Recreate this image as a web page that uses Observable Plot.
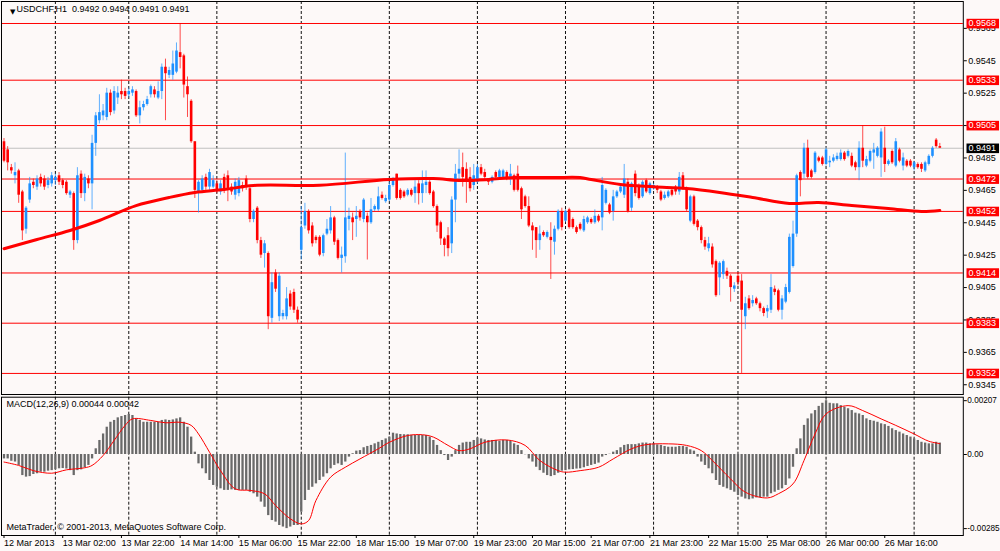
<!DOCTYPE html>
<html>
<head>
<meta charset="utf-8">
<script src="https://cdn.jsdelivr.net/npm/d3@7"></script>
<script src="https://cdn.jsdelivr.net/npm/@observablehq/plot@0.6"></script>
<style>
html, body { margin: 0; padding: 0; background: #fdf9f8; }
#chart { width: 1000px; height: 551px; overflow: hidden; }
#chart svg { display: block; }
</style>
</head>
<body>
<div id="chart"></div>
<script>
// ---------- DATA (USDCHF H1) ----------
const opens = [
.9495,.9490,.9479,.9474,.9477,.9464,.9441,.9459,.9470,.9467,
.9473,.9472,.9468,.9469,.9471,.9474,.9471,.9470,.9462,.9463,
.9434,.9475,.9463,.9472,.9469,.9494,.9508,.9511,.9510,.9525,
.9514,.9522,.9526,.9526,.9524,.9525,.9526,.9511,.9516,.9518,
.9524,.9527,.9522,.9526,.9541,.9536,.9536,.9538,.9550,.9548,
.9529,.9520,.9495,.9464,.9465,.9473,.9467,.9467,.9469,.9464,
.9473,.9474,.9467,.9462,.9463,.9468,.9472,.9466,.9447,.9454,
.9434,.9426,.9426,.9386,.9414,.9387,.9387,.9387,.9401,.9402,
.9391,.9428,.9443,.9452,.9443,.9436,.9436,.9426,.9438,.9440,
.9448,.9434,.9423,.9424,.9447,.9448,.9447,.9452,.9447,.9449,
.9445,.9453,.9453,.9462,.9458,.9459,.9468,.9475,.9465,.9464,
.9462,.9465,.9463,.9469,.9463,.9468,.9470,.9464,.9455,.9445,
.9435,.9437,.9432,.9459,.9475,.9479,.9478,.9473,.9468,.9470,
.9479,.9476,.9472,.9470,.9476,.9473,.9473,.9476,.9472,.9474,
.9475,.9466,.9461,.9455,.9443,.9442,.9434,.9439,.9436,.9436,
.9433,.9441,.9452,.9446,.9453,.9447,.9442,.9444,.9440,.9445,
.9447,.9445,.9449,.9448,.9457,.9456,.9452,.9461,.9464,.9462,
.9470,.9454,.9475,.9468,.9461,.9471,.9463,.9466,.9467,.9464,
.9460,.9461,.9465,.9467,.9464,.9474,.9466,.9446,.9461,.9446,
.9442,.9434,.9429,.9430,.9421,.9411,.9413,.9415,.9412,.9404,
.9412,.9409,.9387,.9398,.9395,.9398,.9395,.9392,.9390,.9391,
.9404,.9403,.9391,.9396,.9402,.9418,.9438,.9476,.9475,.9491,
.9477,.9476,.9485,.9485,.9481,.9482,.9483,.9484,.9484,.9488,
.9486,.9486,.9482,.9479,.9491,.9480,.9483,.9488,.9486,.9485,
.9491,.9481,.9489,.9480,.9490,.9480,.9483,.9483,.9479,.9481,
.9481,.9477,.9481,.9486,.9496,.9492];
const highs = [
.9497,.9492,.9481,.9482,.9478,.9465,.9455,.9473,.9472,.9474,
.9475,.9474,.9473,.9476,.9475,.9476,.9472,.9471,.9465,.9464,
.9479,.9477,.9475,.9474,.9499,.9513,.9524,.9518,.9528,.9527,
.9529,.9529,.9533,.9528,.9528,.9529,.9527,.9520,.9520,.9523,
.9530,.9529,.9532,.9543,.9546,.9541,.9551,.9556,.9568,.9549,
.9535,.9521,.9495,.9471,.9474,.9475,.9478,.9474,.9471,.9471,
.9475,.9477,.9469,.9472,.9473,.9470,.9474,.9468,.9453,.9455,
.9436,.9434,.9427,.9414,.9416,.9414,.9391,.9405,.9403,.9404,
.9393,.9455,.9457,.9453,.9445,.9437,.9437,.9438,.9447,.9455,
.9449,.9435,.9430,.9488,.9454,.9451,.9455,.9453,.9460,.9451,
.9460,.9456,.9467,.9464,.9462,.9470,.9473,.9475,.9466,.9465,
.9466,.9466,.9471,.9471,.9477,.9477,.9471,.9465,.9456,.9446,
.9436,.9442,.9461,.9481,.9490,.9488,.9482,.9479,.9481,.9481,
.9481,.9478,.9472,.9474,.9477,.9478,.9478,.9477,.9481,.9475,
.9480,.9467,.9462,.9461,.9445,.9442,.9443,.9440,.9440,.9445,
.9443,.9453,.9454,.9453,.9454,.9448,.9443,.9445,.9449,.9449,
.9448,.9453,.9450,.9473,.9466,.9457,.9465,.9465,.9468,.9481,
.9472,.9470,.9477,.9469,.9471,.9472,.9470,.9469,.9468,.9465,
.9464,.9465,.9466,.9468,.9476,.9476,.9467,.9462,.9462,.9447,
.9443,.9436,.9436,.9432,.9422,.9421,.9422,.9417,.9413,.9408,
.9414,.9413,.9399,.9400,.9400,.9399,.9396,.9393,.9394,.9413,
.9406,.9404,.9400,.9407,.9438,.9446,.9475,.9477,.9494,.9496,
.9478,.9489,.9486,.9486,.9491,.9486,.9487,.9488,.9490,.9489,
.9490,.9488,.9483,.9495,.9505,.9486,.9490,.9494,.9492,.9503,
.9504,.9484,.9490,.9497,.9491,.9488,.9484,.9484,.9483,.9482,
.9482,.9483,.9487,.9492,.9497,.9494];
const lows = [
.9482,.9477,.9475,.9469,.9457,.9434,.9438,.9457,.9466,.9465,
.9467,.9465,.9466,.9467,.9468,.9468,.9466,.9462,.9460,.9428,
.9432,.9460,.9458,.9466,.9453,.9486,.9506,.9508,.9508,.9511,
.9512,.9518,.9521,.9521,.9522,.9523,.9510,.9506,.9514,.9517,
.9522,.9522,.9521,.9521,.9508,.9534,.9533,.9537,.9540,.9522,
.9510,.9494,.9460,.9451,.9463,.9465,.9465,.9466,.9463,.9462,
.9463,.9458,.9462,.9459,.9461,.9464,.9465,.9445,.9445,.9432,
.9423,.9417,.9379,.9383,.9402,.9384,.9385,.9385,.9391,.9389,
.9383,.9422,.9441,.9438,.9430,.9432,.9424,.9424,.9437,.9438,
.9431,.9422,.9414,.9420,.9440,.9434,.9436,.9446,.9445,.9422,
.9444,.9452,.9452,.9459,.9457,.9458,.9467,.9459,.9459,.9460,
.9461,.9461,.9457,.9456,.9457,.9463,.9462,.9454,.9439,.9431,
.9424,.9424,.9426,.9445,.9471,.9467,.9457,.9464,.9465,.9469,
.9474,.9471,.9468,.9469,.9472,.9472,.9472,.9471,.9468,.9464,
.9464,.9447,.9454,.9442,.9428,.9423,.9428,.9436,.9435,.9410,
.9425,.9440,.9440,.9445,.9441,.9441,.9438,.9440,.9439,.9444,
.9444,.9444,.9445,.9440,.9456,.9450,.9446,.9460,.9463,.9460,
.9451,.9452,.9461,.9459,.9460,.9463,.9462,.9465,.9463,.9458,
.9459,.9460,.9461,.9462,.9462,.9465,.9452,.9445,.9443,.9440,
.9432,.9428,.9427,.9417,.9399,.9400,.9410,.9410,.9396,.9402,
.9406,.9352,.9379,.9391,.9393,.9394,.9390,.9387,.9386,.9389,
.9400,.9390,.9385,.9395,.9401,.9417,.9436,.9461,.9472,.9472,
.9472,.9475,.9482,.9480,.9480,.9479,.9482,.9483,.9483,.9483,
.9485,.9479,.9477,.9471,.9479,.9479,.9482,.9478,.9485,.9473,
.9476,.9480,.9481,.9479,.9482,.9477,.9479,.9479,.9477,.9478,
.9476,.9476,.9480,.9485,.9491,.9491];
const closes = [
.9483,.9482,.9477,.9476,.9462,.9440,.9454,.9469,.9468,.9472,
.9469,.9467,.9471,.9474,.9473,.9470,.9468,.9463,.9464,.9434,
.9474,.9463,.9473,.9469,.9494,.9511,.9513,.9514,.9525,.9513,
.9526,.9525,.9524,.9523,.9526,.9527,.9511,.9516,.9518,.9521,
.9529,.9524,.9526,.9541,.9537,.9539,.9543,.9551,.9547,.9530,
.9524,.9495,.9465,.9470,.9472,.9467,.9476,.9471,.9465,.9469,
.9465,.9466,.9464,.9470,.9471,.9466,.9467,.9447,.9452,.9434,
.9425,.9432,.9387,.9408,.9404,.9412,.9389,.9398,.9393,.9391,
.9385,.9442,.9452,.9440,.9432,.9434,.9425,.9437,.9441,.9448,
.9433,.9423,.9425,.9448,.9449,.9445,.9449,.9448,.9459,.9445,
.9453,.9455,.9461,.9460,.9460,.9468,.9472,.9460,.9460,.9461,
.9465,.9462,.9467,.9463,.9469,.9470,.9463,.9455,.9443,.9435,
.9431,.9429,.9459,.9475,.9478,.9473,.9470,.9466,.9474,.9479,
.9475,.9473,.9470,.9473,.9473,.9477,.9477,.9472,.9475,.9465,
.9465,.9453,.9455,.9443,.9440,.9434,.9438,.9437,.9439,.9434,
.9441,.9452,.9442,.9452,.9442,.9442,.9439,.9441,.9447,.9448,
.9445,.9449,.9446,.9468,.9465,.9451,.9461,.9464,.9467,.9472,
.9452,.9469,.9463,.9460,.9470,.9464,.9469,.9468,.9465,.9459,
.9462,.9464,.9462,.9464,.9473,.9466,.9453,.9461,.9444,.9442,
.9434,.9430,.9432,.9419,.9400,.9420,.9421,.9412,.9405,.9406,
.9408,.9391,.9395,.9392,.9397,.9395,.9392,.9389,.9392,.9405,
.9402,.9391,.9398,.9405,.9436,.9438,.9474,.9471,.9491,.9473,
.9473,.9488,.9483,.9481,.9490,.9483,.9485,.9486,.9488,.9484,
.9489,.9480,.9479,.9491,.9483,.9484,.9489,.9490,.9491,.9501,
.9481,.9483,.9482,.9495,.9483,.9485,.9480,.9480,.9482,.9479,
.9478,.9482,.9486,.9491,.9492,.9491];

// moving average (sampled at bars)
const maBars = [0,9,18,26,36,45,52,60,68,86,105,117,124,132,139,150,157,160,168,177,186,195,204,214,222,231,241,250,255];
const maValues = [0.9429,0.94347,0.94402,0.94464,0.94556,0.94606,0.94637,0.94655,0.9468,0.94682,0.94717,0.94723,0.94711,0.94717,0.94729,0.94729,0.94729,0.94717,0.94686,0.94672,0.94661,0.94637,0.94606,0.94569,0.94575,0.94556,0.94538,0.94519,0.94526];

// horizontal levels and bid
const levels = [0.9568, 0.9533, 0.9505, 0.9472, 0.9452, 0.9414, 0.9383, 0.9352];
const bidPrice = 0.9491;
const priceTicks = [0.9345,0.9365,0.9385,0.9405,0.9425,0.9445,0.9465,0.9485,0.9505,0.9525,0.9545,0.9565];

// MACD histogram (one per bar)
const macdHist = [
-0.00017,-0.00017,-0.00026,-0.00029,-0.00042,-0.00081,-0.00087,-0.00085,-0.00077,-0.00074,
-0.00068,-0.00068,-0.00064,-0.00062,-0.00059,-0.00055,-0.00054,-0.00056,-0.00062,-0.00081,
-0.00062,-0.00059,-0.00051,-0.00042,-0.00017,0.00022,0.00054,0.00079,0.00105,0.00124,
0.00131,0.00141,0.00146,0.00150,0.00154,0.00150,0.00137,0.00131,0.00124,0.00124,
0.00124,0.00124,0.00124,0.00131,0.00133,0.00131,0.00133,0.00137,0.00141,0.00124,
0.00105,0.00067,0.00009,-0.00036,-0.00055,-0.00074,-0.00100,-0.00119,-0.00126,-0.00132,
-0.00138,-0.00138,-0.00136,-0.00138,-0.00138,-0.00138,-0.00138,-0.00145,-0.00151,-0.00164,
-0.00183,-0.00203,-0.00235,-0.00254,-0.00260,-0.00273,-0.00279,-0.00285,-0.00279,-0.00273,
-0.00273,-0.00222,-0.00177,-0.00138,-0.00126,-0.00113,-0.00100,-0.00087,-0.00074,-0.00055,
-0.00042,-0.00036,-0.00042,-0.00029,-0.00010,0.00003,0.00013,0.00015,0.00026,0.00031,
0.00035,0.00041,0.00047,0.00054,0.00060,0.00067,0.00082,0.00079,0.00077,0.00076,
0.00076,0.00074,0.00073,0.00073,0.00073,0.00073,0.00067,0.00054,0.00035,0.00015,
-0.00004,-0.00023,-0.00010,0.00015,0.00035,0.00044,0.00047,0.00047,0.00054,0.00064,
0.00060,0.00056,0.00054,0.00054,0.00054,0.00051,0.00054,0.00054,0.00051,0.00041,
0.00035,0.00015,-0.00001,-0.00017,-0.00029,-0.00049,-0.00062,-0.00072,-0.00081,-0.00085,
-0.00081,-0.00072,-0.00064,-0.00062,-0.00059,-0.00058,-0.00056,-0.00055,-0.00051,-0.00046,
-0.00042,-0.00038,-0.00033,-0.00010,-0.00004,0.00001,0.00009,0.00015,0.00026,0.00035,
0.00038,0.00038,0.00038,0.00041,0.00044,0.00044,0.00041,0.00041,0.00037,0.00035,
0.00031,0.00028,0.00028,0.00028,0.00031,0.00031,0.00028,0.00018,0.00013,-0.00010,
-0.00029,-0.00042,-0.00055,-0.00074,-0.00100,-0.00119,-0.00126,-0.00132,-0.00138,-0.00145,
-0.00158,-0.00164,-0.00171,-0.00174,-0.00171,-0.00167,-0.00167,-0.00164,-0.00164,-0.00151,
-0.00145,-0.00138,-0.00132,-0.00119,-0.00094,-0.00049,0.00022,0.00060,0.00112,0.00137,
0.00156,0.00169,0.00185,0.00197,0.00207,0.00197,0.00195,0.00195,0.00188,0.00182,
0.00176,0.00169,0.00159,0.00156,0.00150,0.00137,0.00131,0.00128,0.00124,0.00118,
0.00115,0.00108,0.00099,0.00092,0.00086,0.00079,0.00073,0.00067,0.00060,0.00054,
0.00047,0.00044,0.00041,0.00041,0.00047,0.00044];

// MACD signal line (sampled at bars)
const sigBars = [0,4,8,13,17,22,24,27,30,33,35,40,44,48,51,53,56,59,63,67,71,74,78,81,83,85,89,93,97,102,105,110,114,117,121,124,127,131,137,142,146,151,153,157,162,166,171,175,181,186,190,193,198,202,208,211,215,218,221,224,230,234,239,243,248,252,255];
const sigValues = [-0.00029,-0.00042,-0.00062,-0.00072,-0.00059,-0.00051,-0.00042,-0.00004,0.00054,0.00112,0.00137,0.00131,0.00122,0.00124,0.00112,0.00079,0.00009,-0.00062,-0.00132,-0.00138,-0.00151,-0.00196,-0.00247,-0.00267,-0.00254,-0.00177,-0.00087,-0.00049,-0.00017,0.00022,0.00047,0.00073,0.00076,0.00067,0.00035,0.00015,0.00022,0.00047,0.00056,0.00035,-0.00023,-0.00062,-0.00068,-0.00062,-0.00049,-0.00017,0.00022,0.00038,0.00041,0.00035,0.00015,-0.00023,-0.00094,-0.00145,-0.00167,-0.00151,-0.00113,-0.00023,0.00079,0.00156,0.00188,0.00169,0.00137,0.00112,0.00079,0.00051,0.00042];
const macdTicks = [0.00207, 0, -0.00285];

// time axis
const daySeps = [14,34,58,81,105,129,153,177,200,224,248];
const xTickBars = [0,16,32,48,64,80,96,112,128,144,160,176,192,208,224,240];
const xTickLabels = ["12 Mar 2013","13 Mar 02:00","13 Mar 22:00","14 Mar 14:00","15 Mar 06:00","15 Mar 22:00","18 Mar 15:00","19 Mar 07:00","19 Mar 23:00","20 Mar 15:00","21 Mar 07:00","21 Mar 23:00","22 Mar 15:00","25 Mar 08:00","26 Mar 00:00","26 Mar 16:00"];

// ---------- CHART ----------
const BG = "#fdf9f8", BULL = "#1e90ff", BEAR = "#ff0000";
const FONT = '"Liberation Sans", Arial, sans-serif';
const fmt4 = d3.format(".4f");

const bars = opens.map((o, i) => ({i, o, h: highs[i], l: lows[i], c: closes[i], col: closes[i] >= o ? BULL : BEAR}));
const ma = maBars.map((b, k) => ({i: b, v: maValues[k]}));
const hist = macdHist.map((v, i) => ({i, v}));
const sig = sigBars.map((b, k) => ({i: b, v: sigValues[k]}));
const last = bars[bars.length - 1];
const header = `USDCHF,H1\u00a0\u00a0${fmt4(last.o)} ${fmt4(last.h)} ${fmt4(last.l)} ${fmt4(last.c)}`;
const macdTitle = `MACD(12,26,9) ${macdHist[macdHist.length - 1].toFixed(5)} ${sigValues[sigValues.length - 1].toFixed(5)}`;

const xDomain = [-0.681, 261.4];
const style = {background: BG, fontFamily: FONT, fontSize: "9px", color: "#000", overflow: "visible"};
const sepStyle = {stroke: "#111", strokeDasharray: "3,2", strokeWidth: 1};

const main = Plot.plot({
  width: 1000, height: 395,
  marginLeft: 1, marginRight: 37.2, marginTop: 1, marginBottom: 1,
  style,
  x: {domain: xDomain, axis: null},
  y: {domain: [0.933899, 0.958158]},
  marks: [
    Plot.ruleX(daySeps, sepStyle),
    Plot.ruleY(levels, {stroke: "#ff0000", strokeWidth: 1}),
    Plot.ruleY([bidPrice], {stroke: "#c0c0c0", strokeWidth: 1}),
    Plot.ruleX(bars, {x: "i", y1: "l", y2: "h", stroke: "col", strokeWidth: 1, strokeOpacity: 0.7}),
    Plot.ruleX(bars, {x: "i", y1: "o", y2: "c", stroke: "col", strokeWidth: 2.6}),
    Plot.line(ma, {x: "i", y: "v", stroke: "#ff0000", strokeWidth: 3, curve: "catmull-rom"}),
    Plot.frame({stroke: "#000"}),
    Plot.axisY(priceTicks, {anchor: "right", label: null, tickFormat: fmt4, tickSize: 3, tickPadding: 2}),
    Plot.text(levels, {y: d => d, text: d => fmt4(d), frameAnchor: "right", dx: 5.2, textAnchor: "start", fill: "white"}),
    Plot.text([bidPrice], {y: d => d, text: d => fmt4(d), frameAnchor: "right", dx: 5.2, textAnchor: "start", fill: "white"}),
    Plot.text(["▼"], {text: d => d, frameAnchor: "top-left", dx: 8.5, dy: 8, fontSize: 7, fontFamily: "DejaVu Sans"}),
    Plot.text([header], {text: d => d, frameAnchor: "top-left", dx: 15, dy: 4, textAnchor: "start", lineAnchor: "top"})
  ]
});

const macd = Plot.plot({
  width: 1000, height: 156,
  marginLeft: 1, marginRight: 37.2, marginTop: 1.7, marginBottom: 16,
  style,
  x: {domain: xDomain},
  y: {domain: [-0.003115, 0.002204]},
  marks: [
    Plot.ruleX(daySeps, sepStyle),
    Plot.ruleX(hist, {x: "i", y1: 0, y2: "v", stroke: "#6a6a6a", strokeWidth: 2.3}),
    Plot.line(sig, {x: "i", y: "v", stroke: "#ff0000", strokeWidth: 1, curve: "catmull-rom"}),
    Plot.frame({stroke: "#000"}),
    Plot.axisY(macdTicks, {anchor: "right", label: null, tickFormat: d => d === 0 ? "0.00" : d.toFixed(5), tickSize: 3, tickPadding: 1, fontSize: 8.2}),
    Plot.axisX(xTickBars, {anchor: "bottom", label: null, tickFormat: d => xTickLabels[xTickBars.indexOf(d)], tickSize: 3, tickPadding: 1.5, textAnchor: "start"}),
    Plot.text([macdTitle], {text: d => d, frameAnchor: "top-left", dx: 5, dy: 3.3, textAnchor: "start", lineAnchor: "top"}),
    Plot.text(["MetaTrader, © 2001-2013, MetaQuotes Software Corp."], {text: d => d, frameAnchor: "bottom-left", dx: 5, dy: -11.7, textAnchor: "start", lineAnchor: "top"})
  ]
});

const root = document.getElementById("chart");
root.appendChild(main);
root.appendChild(macd);

// boxes behind the price labels on the right (red for levels, black for the bid)
const bidText = fmt4(bidPrice);
main.querySelectorAll('g[fill="white"] text').forEach(t => {
  const b = t.getBBox();
  const r = document.createElementNS("http://www.w3.org/2000/svg", "rect");
  r.setAttribute("x", b.x - 2);
  r.setAttribute("y", b.y + 0.4);
  r.setAttribute("width", b.width + 5);
  r.setAttribute("height", 9.6);
  r.setAttribute("fill", t.textContent === bidText ? "#000000" : "#ff0000");
  const tr = t.getAttribute("transform");
  if (tr) r.setAttribute("transform", tr);
  t.parentNode.insertBefore(r, t);
});
</script>
</body>
</html>
